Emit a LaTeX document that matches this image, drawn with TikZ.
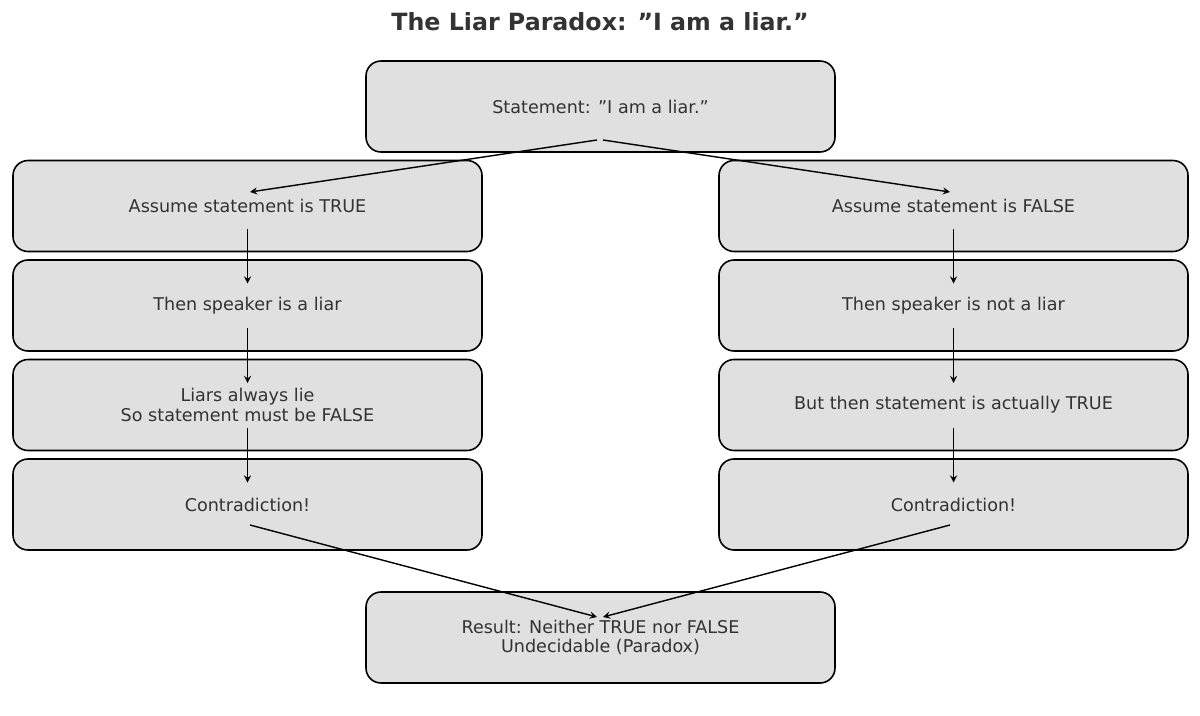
\documentclass[tikz,border=0pt]{standalone}
\usepackage{fontspec}
\setmainfont{DejaVu Sans}
\begin{document}
\begin{tikzpicture}[x=0.02cm,y=-0.02cm,
  box/.style={draw=black,fill={rgb,255:red,224;green,224;blue,224},rounded corners=0.3cm,line width=0.9pt,minimum width=469*0.02cm,minimum height=91*0.02cm,align=center,font=\fontsize{10pt}{11pt}\selectfont,text={rgb,255:red,51;green,51;blue,51},inner sep=0pt},
  arr/.style={->,>=stealth,line width=0.8pt}]
\useasboundingbox (0,0) rectangle (1200,716);
\node[font=\bfseries\fontsize{13.5pt}{15pt}\selectfont,text={rgb,255:red,51;green,51;blue,51}] (title) at (600,22) {The Liar Paradox: "I am a liar."};
\node[box] (s) at (600.5,106.5) {Statement: "I am a liar."};
\node[box] (l1) at (247.5,206) {Assume statement is TRUE};
\node[box] (l2) at (247.5,305.5) {Then speaker is a liar};
\node[box] (l3) at (247.5,405) {Liars always lie\\So statement must be FALSE};
\node[box] (l4) at (247.5,504.5) {Contradiction!};
\node[box] (r1) at (953.5,206) {Assume statement is FALSE};
\node[box] (r2) at (953.5,305.5) {Then speaker is not a liar};
\node[box] (r3) at (953.5,405) {But then statement is actually TRUE};
\node[box] (r4) at (953.5,504.5) {Contradiction!};
\node[box] (res) at (600.5,637.5) {Result: Neither TRUE nor FALSE\\Undecidable (Paradox)};
\coordinate (sa) at (597,140); \coordinate (sb) at (603,140);
\coordinate (l1e) at (250,192); \coordinate (r1e) at (950,192);
\coordinate (ra) at (597,617); \coordinate (rb) at (603,617);
\coordinate (l4s) at (250,525); \coordinate (r4s) at (950,525);
\draw[arr] (sa) -- (l1e);
\draw[arr] (sb) -- (r1e);
\foreach \a/\b in {l1/l2,l2/l3,l3/l4,r1/r2,r2/r3,r3/r4}{
  \draw[arr] ([yshift=-0.46cm]\a.center) -- ([yshift=0.44cm]\b.center);}
\draw[arr] (l4s) -- (ra);
\draw[arr] (r4s) -- (rb);
\end{tikzpicture}
\end{document}
